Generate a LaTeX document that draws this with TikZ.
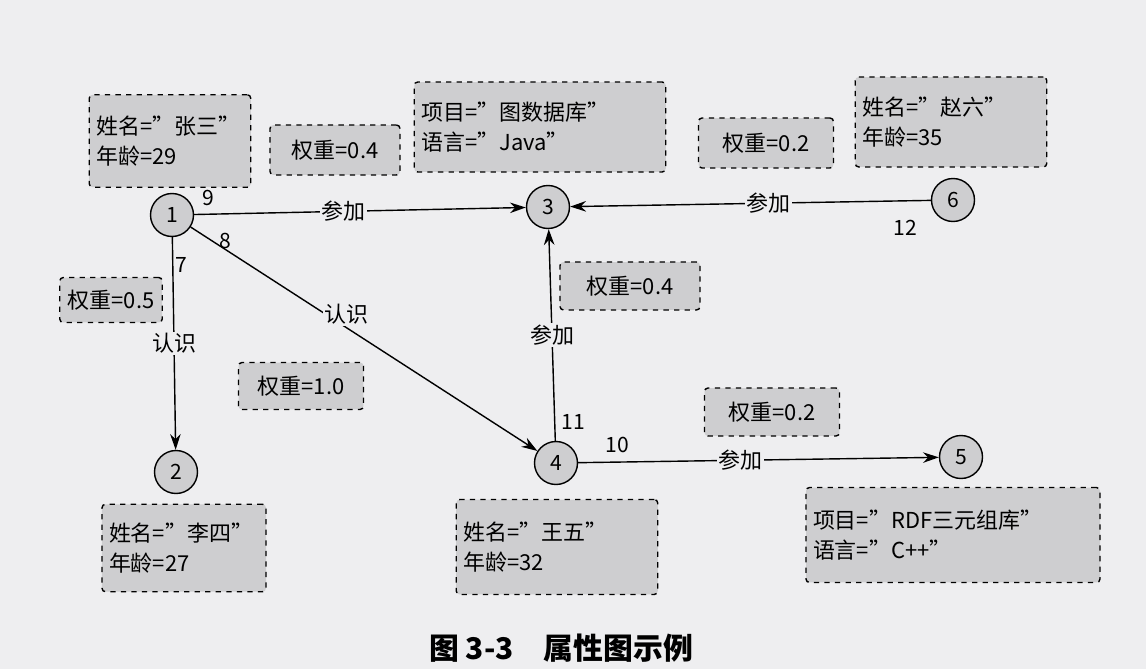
\documentclass[tikz,border=0pt]{standalone}
\usepackage{fontspec}
\setmainfont{Noto Sans CJK SC}
\usetikzlibrary{arrows.meta}
\definecolor{bgc}{RGB}{238,238,240}
\definecolor{boxc}{RGB}{206,206,208}
\tikzset{
  vert/.style={circle,draw,thick,fill=boxc,minimum size=0.86cm,inner sep=0pt,font=\fontsize{12}{14}\selectfont},
  prop/.style={draw,dashed,thick,fill=boxc,rounded corners=2pt,align=left,inner xsep=4pt,font=\fontsize{12.5}{17}\selectfont},
  lab/.style={fill=bgc,inner sep=1pt,font=\fontsize{12.5}{14}\selectfont},
  num/.style={font=\fontsize{12}{14}\selectfont},
  link/.style={thick,-{Stealth[length=9pt,width=6pt]}}
}
\begin{document}
\begin{tikzpicture}[x=0.02cm,y=-0.02cm]
  % background
  \fill[bgc] (0,0) rectangle (1146,669);
  \useasboundingbox (0,0) rectangle (1146,669);

  % vertices
  \node[vert] (v1) at (172,215) {1};
  \node[vert] (v2) at (176,472) {2};
  \node[vert] (v3) at (548,207) {3};
  \node[vert] (v4) at (556,463) {4};
  \node[vert] (v5) at (961,457) {5};
  \node[vert] (v6) at (953,200) {6};

  % properties
  \node[prop,text width=2.95cm,minimum height=1.85cm] (p1) at (170,141) {姓名="张三"\\年龄=29};
  \node[prop,minimum width=2.6cm,minimum height=1cm] (w13) at (335,150) {权重=0.4};
  \node[prop,text width=4.75cm,minimum height=1.8cm] (p3) at (540,127) {项目="图数据库"\\语言="Java"};
  \node[prop,minimum width=2.7cm,minimum height=1cm] (w63) at (766,143) {权重=0.2};
  \node[prop,text width=3.55cm,minimum height=1.8cm] (p6) at (951,122) {姓名="赵六"\\年龄=35};
  \node[prop,minimum width=2.05cm,minimum height=0.9cm] (w12) at (111,300) {权重=0.5};
  \node[prop,minimum width=2.8cm,minimum height=0.96cm] (w43) at (630,286) {权重=0.4};
  \node[prop,minimum width=2.5cm,minimum height=0.94cm] (w14) at (301,386) {权重=1.0};
  \node[prop,minimum width=2.7cm,minimum height=0.96cm] (w45) at (772,412) {权重=0.2};
  \node[prop,text width=3.0cm,minimum height=1.75cm] (p2) at (184,548) {姓名="李四"\\年龄=27};
  \node[prop,text width=3.75cm,minimum height=1.9cm] (p4) at (557,547) {姓名="王五"\\年龄=32};
  \node[prop,text width=5.6cm,minimum height=1.9cm] (p5) at (953,535) {项目="RDF三元组库"\\语言="C++"};

  % edges
  \draw[link] (v1) -- node[lab,pos=0.45] {参加} (v3);
  \draw[link] (v6) -- node[lab,pos=0.45] {参加} (v3);
  \draw[link] (v1) -- node[lab,pos=0.5] {认识} (v2);
  \draw[link] (v1) -- node[lab,pos=0.45,yshift=8pt] {认识} (v4);
  \draw[link] (v4) -- node[lab,pos=0.5] {参加} (v3);
  \draw[link] (v4) -- node[lab,pos=0.45] {参加} (v5);

  % edge ids
  \node[num] (n9) at (208,198) {9};
  \node[num] (n8) at (225,241) {8};
  \node[num] (n7) at (181,265) {7};
  \node[num] (n12) at (905,228) {12};
  \node[num] (n11) at (573,422) {11};
  \node[num] (n10) at (617,445) {10};

  % caption
  \node[font=\fontsize{17}{20}\selectfont\bfseries] (cap) at (561,648) {图 3-3\quad 属性图示例};
\end{tikzpicture}
\end{document}
